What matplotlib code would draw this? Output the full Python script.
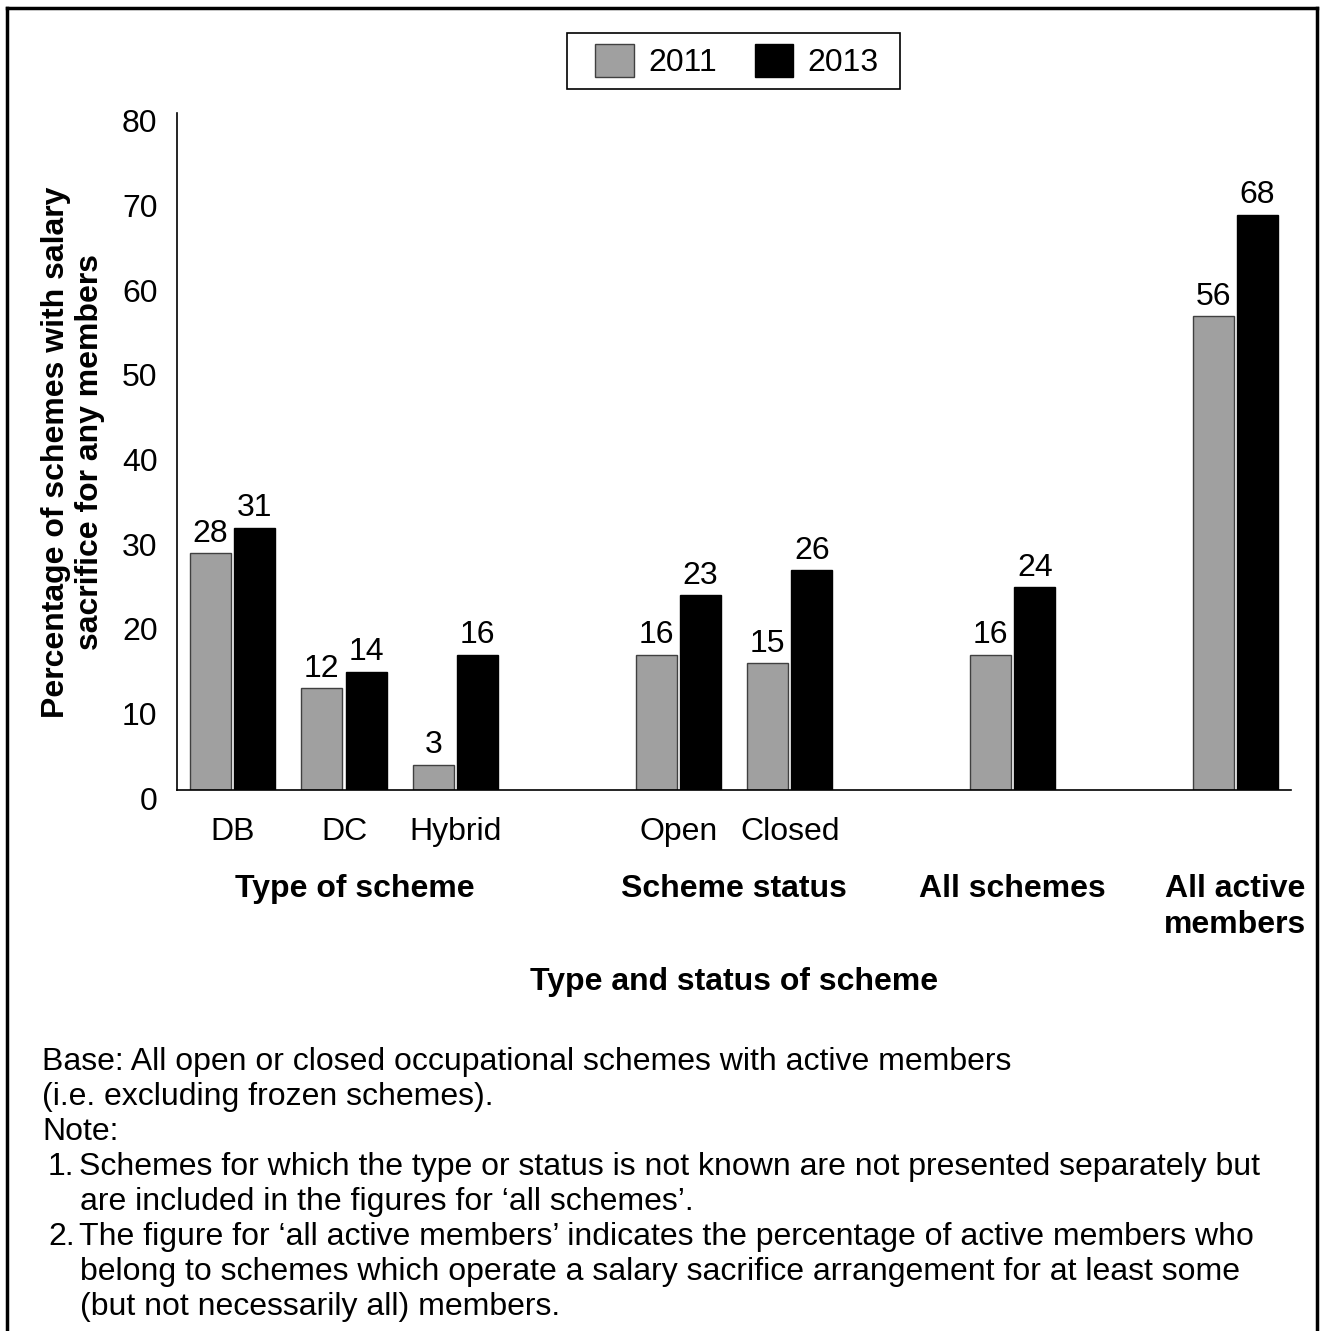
import matplotlib
matplotlib.use("Agg")
import matplotlib.pyplot as plt
from matplotlib.lines import Line2D
from matplotlib.patches import Patch, Rectangle
from matplotlib.transforms import ScaledTranslation, blended_transform_factory

plt.rcParams["font.family"] = ["Liberation Sans", "DejaVu Sans"]

# Salary sacrifice survey, % of schemes (and of active members)
categories = ["DB", "DC", "Hybrid", "Open", "Closed", "All schemes", "All active members"]
tick_labels = ["DB", "DC", "Hybrid", "Open", "Closed", "", ""]
pct_2011 = [28, 12, 3, 16, 15, 16, 56]
pct_2013 = [31, 14, 16, 23, 26, 24, 68]
group_labels = ["Type of scheme", "Scheme status", "All schemes", "All active\nmembers"]
# (list marker, text) per footnote line
note_lines = [
    ("", "Base: All open or closed occupational schemes with active members"),
    ("", "(i.e. excluding frozen schemes)."),
    ("", "Note:"),
    ("1.", "Schemes for which the type or status is not known are not presented separately but"),
    ("", "are included in the figures for \u2018all schemes\u2019."),
    ("2.", "The figure for \u2018all active members\u2019 indicates the percentage of active members who"),
    ("", "belong to schemes which operate a salary sacrifice arrangement for at least some"),
    ("", "(but not necessarily all) members."),
]

# layout: one slot per category, empty slots between the groups
slots = [0, 1, 2, 4, 5, 7, 9]
group_x = [1.1, 4.5, 7, 9]
note_x = [42, 42, 42, 79, 80, 79, 80, 80]

GREY = "#a0a0a0"
FS = 23

W, H = 1321, 1331
fig = plt.figure(figsize=(W / 100, H / 100), dpi=100)
ax = fig.add_axes([177 / W, 1 - 790 / H, (1291 - 177) / W, (790 - 113) / H])

bw = 0.368
off = 0.2
b1 = ax.bar([s - off for s in slots], pct_2011, width=bw, color=GREY,
            edgecolor="#404040", linewidth=1)
b2 = ax.bar([s + off for s in slots], pct_2013, width=bw, color="black",
            edgecolor="black", linewidth=1)
for bars, vals in ((b1, pct_2011), (b2, pct_2013)):
    for rect, v in zip(bars, vals):
        ax.annotate(f"{v}", (rect.get_x() + rect.get_width() / 2, v),
                    xytext=(0, 3), textcoords="offset points",
                    ha="center", va="bottom", fontsize=FS)

ax.set_xlim(-0.5, 9.5)
ax.set_ylim(0, 80)
ax.set_yticks(range(0, 81, 10))
ax.set_xticks(slots[:5])
ax.set_xticklabels(tick_labels[:5])
ax.tick_params(axis="both", length=0, labelsize=FS)
ax.tick_params(axis="y", pad=14)
ax.tick_params(axis="x", pad=19.5)
# y labels sit a little below their gridline values
shift = ScaledTranslation(0, -8 / 100, fig.dpi_scale_trans)
for lbl in ax.get_yticklabels():
    lbl.set_transform(lbl.get_transform() + shift)
for side in ("top", "right"):
    ax.spines[side].set_visible(False)
for side in ("left", "bottom"):
    ax.spines[side].set_linewidth(1.2)

trans = blended_transform_factory(ax.transData, fig.transFigure)
for gx, gl in zip(group_x, group_labels):
    ax.text(gx, 1 - 874 / H, gl, transform=trans, ha="center", va="top",
            fontsize=FS, fontweight="bold", linespacing=1.25)

fig.text(734 / W, 1 - 982 / H, "Type and status of scheme", ha="center",
         va="center", fontsize=FS, fontweight="bold")
fig.text(73 / W, 1 - 452 / H,
         "Percentage of schemes with salary\nsacrifice for any members",
         ha="center", va="center", rotation=90, fontsize=FS,
         fontweight="bold", linespacing=1.15)

# legend entries, with a plain square box drawn around them
handles = [Patch(facecolor=GREY, edgecolor="#404040", label="2011"),
           Patch(facecolor="black", edgecolor="black", label="2013")]
fig.legend(handles=handles, loc="center", ncol=2,
           bbox_to_anchor=(737 / W, 1 - 61 / H), fontsize=FS, frameon=False,
           handlelength=1.2, handleheight=1.2, handletextpad=0.45,
           columnspacing=1.2, borderpad=0, borderaxespad=0)
fig.add_artist(Rectangle((567 / W, 1 - 89 / H), 333 / W, 56 / H,
                         transform=fig.transFigure, facecolor="none",
                         edgecolor="black", linewidth=1.2))

for i, ((mark, line), nx) in enumerate(zip(note_lines, note_x)):
    y = 1 - (1062 + i * 35) / H
    if mark:
        fig.text(48 / W, y, mark, ha="left", va="center", fontsize=FS)
    fig.text(nx / W, y, line, ha="left", va="center", fontsize=FS)

# outer frame, open at the bottom
for xs, ys in (([7, 7], [H + 5, 8]), ([7, 1317], [8, 8]), ([1317, 1317], [8, H + 5])):
    fig.add_artist(Line2D([x / W for x in xs], [1 - y / H for y in ys],
                          color="black", linewidth=2.5,
                          transform=fig.transFigure, clip_on=False))

fig.savefig("out.png", dpi=100)
